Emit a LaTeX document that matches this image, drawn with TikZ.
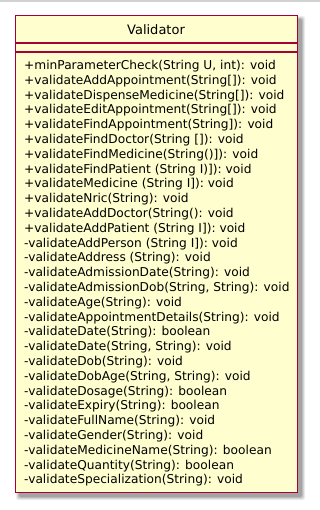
\documentclass[tikz,border=0pt]{standalone}
\usepackage{fontspec}
\setmainfont{DejaVu Sans}
\definecolor{umlborder}{HTML}{A80036}
\definecolor{umlfill}{HTML}{FEFECE}
\begin{document}
\begin{tikzpicture}[x=1pt,y=-1pt,
  classbox/.style={draw=umlborder, fill=umlfill, line width=1.3pt,
    minimum width=282pt, minimum height=477pt, inner sep=0pt, anchor=north west},
  sepline/.style={draw=umlborder, line width=1.1pt},
  member/.style={anchor=base west, inner sep=0pt, font=\fontsize{12.2}{14}\selectfont},
  titletext/.style={anchor=base, inner sep=0pt, font=\fontsize{13}{15}\selectfont}]
\useasboundingbox (0,0) rectangle (320,510);
\fill[white] (0,0) rectangle (320,510);
\fill[black!18] (0,0) rectangle (320,2);
% soft drop shadow
\foreach \g/\op in {3/0.07, 2/0.09, 1/0.11, 0/0.14}
  \fill[black, opacity=\op, rounded corners=2pt]
    (19-\g,19-\g) rectangle (302+\g,497+\g);
% class box with its compartments
\node[classbox] (box) at (15,15) {};
\draw[sepline] ([yshift=-28pt]box.north west) -- ([yshift=-28pt]box.north east);
\draw[sepline] ([yshift=-37pt]box.north west) -- ([yshift=-37pt]box.north east);
\node[titletext] (title) at (156,35) {Validator};
\foreach \txt [count=\i from 0] in {
  {+minParameterCheck(String U, int): void},
  {+validateAddAppointment(String[]): void},
  {+validateDispenseMedicine(String[]): void},
  {+validateEditAppointment(String[]): void},
  {+validateFindAppointment(String]): void},
  {+validateFindDoctor(String []): void},
  {+validateFindMedicine(String()]): void},
  {+validateFindPatient (String I)]): void},
  {+validateMedicine (String I]): void},
  {+validateNric(String): void},
  {+validateAddDoctor(String(): void},
  {+validateAddPatient (String I]): void},
  {-validateAddPerson (String I]): void},
  {-validateAddress (String): void},
  {-validateAdmissionDate(String): void},
  {-validateAdmissionDob(String, String): void},
  {-validateAge(String): void},
  {-validateAppointmentDetails(String): void},
  {-validateDate(String): boolean},
  {-validateDate(String, String): void},
  {-validateDob(String): void},
  {-validateDobAge(String, String): void},
  {-validateDosage(String): boolean},
  {-validateExpiry(String): boolean},
  {-validateFullName(String): void},
  {-validateGender(String): void},
  {-validateMedicineName(String): boolean},
  {-validateQuantity(String): boolean},
  {-validateSpecialization(String): void}}
  \node[member] (m\i) at (24,{69.5+14.8*\i}) {\txt};
\end{tikzpicture}
\end{document}
